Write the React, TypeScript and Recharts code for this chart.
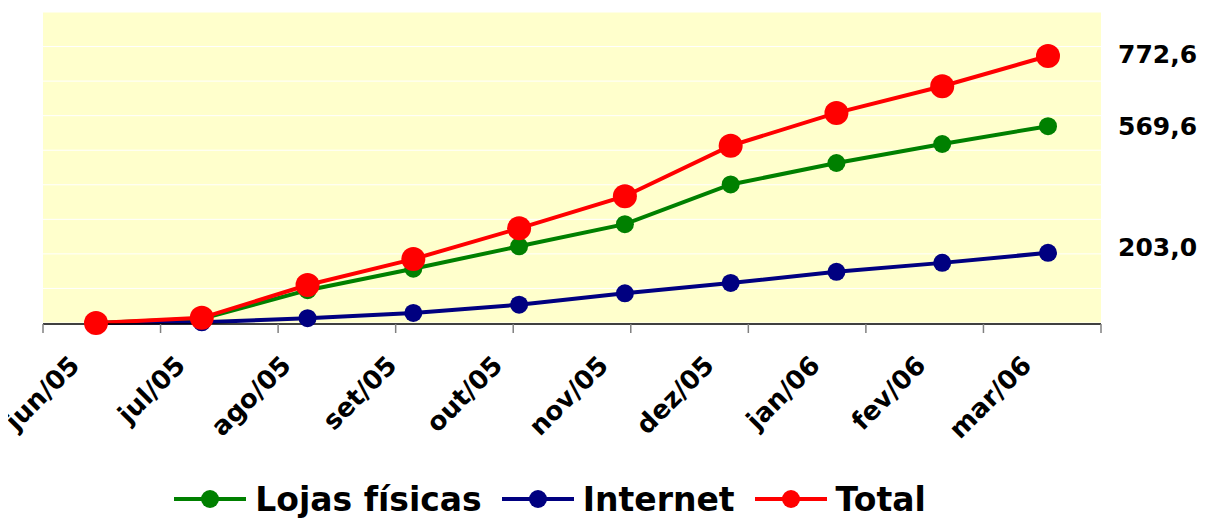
import React from 'react';
import {
  LineChart,
  Line,
  XAxis,
  YAxis,
  CartesianGrid,
  Legend,
  LabelList,
} from 'recharts';

const MONTHS = ['jun/05', 'jul/05', 'ago/05', 'set/05', 'out/05', 'nov/05', 'dez/05', 'jan/06', 'fev/06', 'mar/06'];
const LOJAS = [0, 12, 95, 157, 222, 286, 401, 463, 518, 569.6];
const INTERNET = [0, 2, 14, 29, 53, 86, 116, 148, 174, 203.0];
const TOTAL = [0, 15, 110, 185, 274, 367, 513, 608, 685, 772.6];
const Y_TICKS = [0, 100, 200, 300, 400, 500, 600, 700, 800, 900];
const BOUNDARY_TICKS = [0, 1, 2, 3, 4, 5, 6, 7, 8, 9, 10];

const data = MONTHS.map((month, i) => ({
  month,
  lojas: LOJAS[i],
  internet: INTERNET[i],
  total: TOTAL[i],
}));

const FONT = '"DejaVu Sans", Verdana, sans-serif';

const SERIES = [
  { key: 'lojas', name: 'Lojas físicas', color: '#008000', r: 9, labelDy: 0 },
  { key: 'internet', name: 'Internet', color: '#000080', r: 9, labelDy: -5 },
  { key: 'total', name: 'Total', color: '#FF0000', r: 12, labelDy: -2 },
];

const MonthTick = (props: any) => {
  const { x, y, payload } = props;
  const ax = x - 15;
  const ay = y + 44;
  return (
    <text
      x={ax}
      y={ay}
      transform={`rotate(-45, ${ax}, ${ay})`}
      textAnchor="end"
      fontFamily={FONT}
      fontWeight="bold"
      fontSize={26}
      fill="#000"
    >
      {payload.value}
    </text>
  );
};

// only the last point gets its value printed, to the right of the plot
const lastValueLabel = (dy: number) => (props: any) => {
  const { x, y, value, index } = props;
  if (index !== MONTHS.length - 1) return null;
  return (
    <text
      x={x + 70}
      y={y + dy}
      dominantBaseline="central"
      fontFamily={FONT}
      fontWeight="bold"
      fontSize={25}
      fill="#000"
    >
      {Number(value).toFixed(1).replace('.', ',')}
    </text>
  );
};

const LegendContent = () => (
  <div
    style={{
      display: 'flex',
      justifyContent: 'center',
      alignItems: 'center',
      height: 40,
      fontFamily: FONT,
      fontWeight: 'bold',
      fontSize: 33,
      color: '#000',
    }}
  >
    {SERIES.map((s) => (
      <div key={s.key} style={{ display: 'flex', alignItems: 'center', marginRight: 20 }}>
        <svg width={72} height={24} style={{ marginRight: 9 }}>
          <line x1={0} y1={12} x2={72} y2={12} stroke={s.color} strokeWidth={4} />
          <circle cx={36} cy={12} r={9} fill={s.color} />
        </svg>
        <span>{s.name}</span>
      </div>
    ))}
  </div>
);

export default function App() {
  return (
    <LineChart
      width={1199}
      height={511}
      data={data}
      margin={{ top: 4, right: 106, bottom: 0, left: 35 }}
    >
      <CartesianGrid
        vertical={false}
        stroke="#FFFFFF"
        strokeWidth={1}
        fill="#FFFFCC"
        fillOpacity={1}
      />
      <XAxis
        dataKey="month"
        height={1}
        interval={0}
        padding={{ left: 53, right: 53 }}
        tickSize={0}
        tickMargin={0}
        tickLine={false}
        axisLine={false}
        tick={<MonthTick />}
      />
      <XAxis
        xAxisId="bounds"
        type="number"
        domain={[0, 10]}
        ticks={BOUNDARY_TICKS}
        interval={0}
        height={155}
        tick={() => <g />}
        tickSize={9}
        tickLine={{ stroke: '#808080', strokeWidth: 1.5 }}
        axisLine={{ stroke: '#000', strokeWidth: 1.5 }}
        allowDataOverflow
      />
      <YAxis hide domain={[0, 900]} ticks={Y_TICKS} />
      <Legend
        verticalAlign="bottom"
        height={40}
        wrapperStyle={{ left: 0, width: 1104 }}
        content={<LegendContent />}
      />
      {SERIES.map((s) => (
        <Line
          key={s.key}
          dataKey={s.key}
          name={s.name}
          stroke={s.color}
          strokeWidth={4}
          dot={{ r: s.r, fill: s.color, stroke: s.color, strokeWidth: 0 }}
          activeDot={false}
          isAnimationActive={false}
        >
          <LabelList dataKey={s.key} content={lastValueLabel(s.labelDy)} />
        </Line>
      ))}
    </LineChart>
  );
}
